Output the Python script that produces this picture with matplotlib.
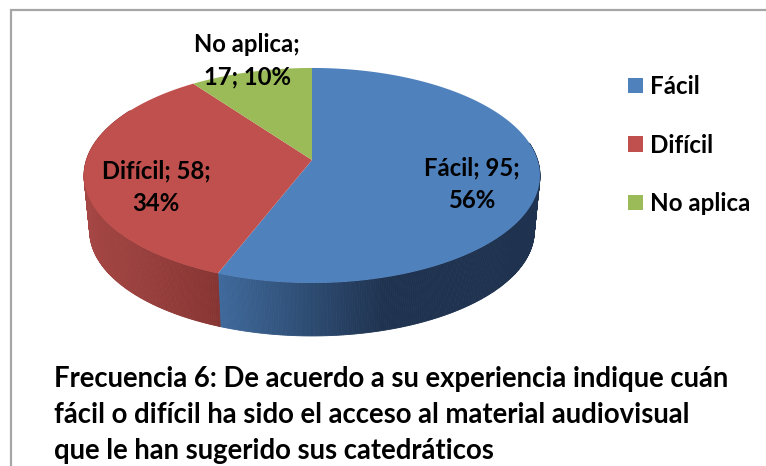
#!/usr/bin/env python3
# Pie 3D con perspectiva, dibujado a mano porque matplotlib no trae uno
import numpy as np
import matplotlib
matplotlib.use("Agg")
import matplotlib.pyplot as plt
from matplotlib.patches import Patch

categories = ["Fácil", "Difícil", "No aplica"]
values = [95, 58, 17]
percents = [56, 34, 10]
labels = ["Fácil; 95;\n56%", "Difícil; 58;\n34%", "No aplica;\n17; 10%"]
title_text = ("Frecuencia 6: De acuerdo a su experiencia indique cuán\n"
              "fácil o difícil ha sido el acceso al material audiovisual\n"
              "que le han sugerido sus catedráticos")

top_colors = ["#4F81BD", "#C0504D", "#9BBB59"]
# wall colour at left and right of the pie
wall_left = ["#3F6A9C", "#A54744", "#7F9A48"]
wall_right = ["#1F3350", "#873533", "#5F7535"]
wall_x = [[218, 385], [84, 218], [84, 218]]

W, H = 766, 466
CX, CY = 312, 160
BOTTOM_CY = 216
BOTTOM_SCALE = 0.975
RX, RY, PERSP = 225.6, 105.3, 0.144
FONT = "Lato"


def project(theta, cy=CY, scale=1.0):
    # theta clockwise from the top of the pie, degrees
    t = np.radians(theta)
    u, v = np.sin(t), np.cos(t)
    w = 1 + PERSP * v
    return CX + scale * RX * u / w, cy - scale * RY * v / w


def mix(c1, c2, f):
    a = np.array(matplotlib.colors.to_rgb(c1))
    b = np.array(matplotlib.colors.to_rgb(c2))
    return tuple(a + (b - a) * np.clip(f, 0, 1))


fig = plt.figure(figsize=(W / 100, H / 100), dpi=100)
ax = fig.add_axes([0, 0, 1, 1])
ax.set_xlim(0, W)
ax.set_ylim(H, 0)
ax.axis("off")

# chart frame, only top and left are in the crop
ax.plot([10.5, 10.5, W], [H, 9.5, 9.5], color="#A6A6A6", lw=1.6, solid_joinstyle="miter")

fractions = np.array(values) / sum(values)
edges = np.concatenate([[0], np.cumsum(fractions)]) * 360

# walls first
for i in range(len(values)):
    thetas = np.arange(edges[i], edges[i + 1] + 0.5, 0.5)
    for t0, t1 in zip(thetas[:-1], thetas[1:]):
        if not 80 < t0 < 300:
            continue
        x0, y0 = project(t0)
        x1, y1 = project(t1)
        x2, y2 = project(t1, BOTTOM_CY, BOTTOM_SCALE)
        x3, y3 = project(t0, BOTTOM_CY, BOTTOM_SCALE)
        f = (x0 - wall_x[i][0]) / (wall_x[i][1] - wall_x[i][0])
        col = mix(wall_left[i], wall_right[i], f)
        ax.fill([x0, x1, x2, x3], [y0, y1, y2, y3], color=col, lw=0.6, zorder=2)

# top face
for i in range(len(values)):
    thetas = np.linspace(edges[i], edges[i + 1], 200)
    xs, ys = project(thetas)
    ax.fill(np.r_[CX, xs], np.r_[CY, ys], color=top_colors[i], lw=0, zorder=3)

# data labels
label_pos = [(472, 184.5), (156, 187.5), (247, 61)]
for txt, (x, y) in zip(labels, label_pos):
    ax.text(x, y, txt, ha="center", va="center", family=FONT, fontweight="bold",
            fontsize=17.2, linespacing=1.5, color="black", zorder=4)

handles = [Patch(facecolor=c, edgecolor="none") for c in top_colors]
ax.legend(handles, categories, loc="upper left", bbox_to_anchor=(628 / W, 1 - 75 / H),
          frameon=False, prop={"family": FONT, "weight": "bold", "size": 17.4},
          handlelength=0.62, handleheight=0.62, handletextpad=0.3, labelspacing=1.47,
          borderpad=0, borderaxespad=0)

ax.text(54, 415, title_text, ha="left", va="center", family=FONT, fontweight="bold",
        fontsize=19.8, linespacing=1.5, color="black", zorder=4)

fig.savefig("out.png", dpi=100)
